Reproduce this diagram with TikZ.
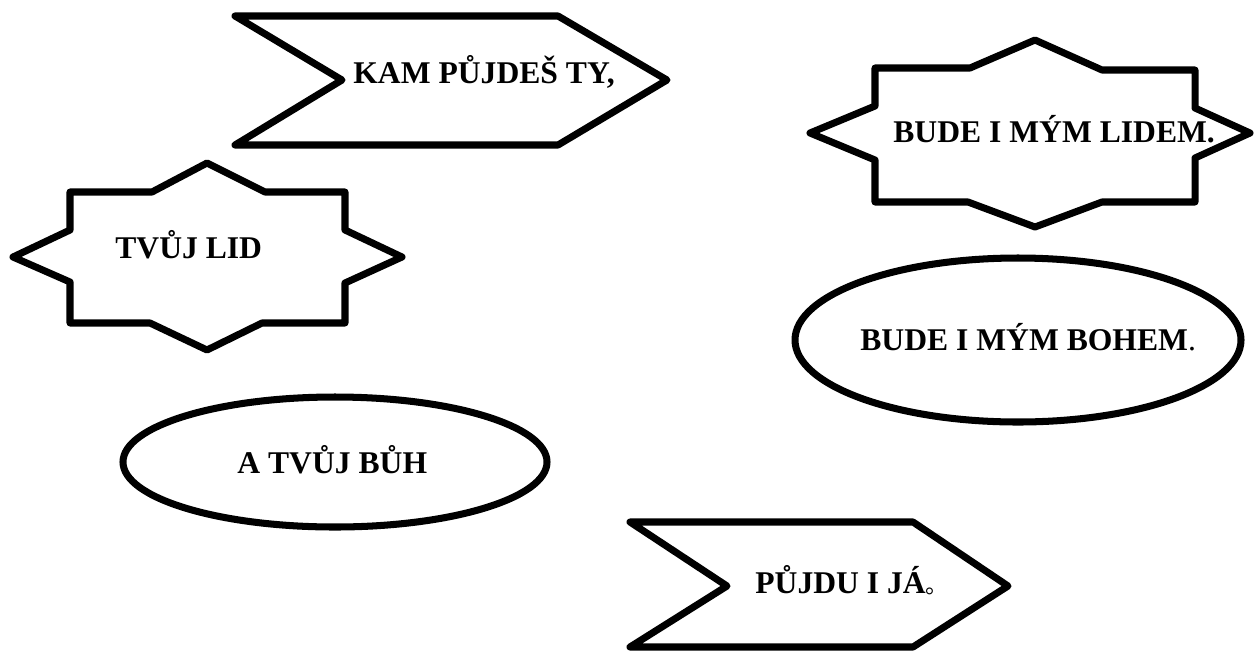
\documentclass[tikz,border=0pt]{standalone}
\usepackage{fontspec}
\setmainfont{Liberation Serif}
\newfontfamily\cjk{Noto Sans CJK SC}
\tikzset{
	tvar/.style={draw=black, line width=4pt, line join=round, fill=white},
	napis/.style={anchor=base west, inner sep=0pt, font=\bfseries\fontsize{18}{21}\selectfont},
}
\begin{document}
\begin{tikzpicture}[x=0.02cm, y=-0.02cm]
	\useasboundingbox (0, 0) rectangle (1254, 650);
	% Šipky
	\draw[tvar] (235, 16) -- (558, 16) -- (667, 80) -- (558, 145) -- (235, 145) -- (342, 80) -- cycle;
	\node[napis] (kam) at (353, 83) {KAM PŮJDEŠ TY,};
	\draw[tvar] (630, 522) -- (913, 522) -- (1008, 586) -- (913, 647) -- (630, 647) -- (727, 586) -- cycle;
	\node[napis] (pujdu) at (755, 593) {PŮJDU I JÁ{\mdseries\cjk\fontsize{13}{15}\selectfont 。}};
	% Hvězdy
	\draw[tvar] (70, 192) -- (152, 192) -- (207, 163) -- (265, 192) -- (345, 192) -- (345, 230) -- (402, 257) -- (345, 283) -- (345, 323) -- (262, 323) -- (207, 350) -- (150, 323) -- (70, 323) -- (70, 282) -- (13, 257) -- (70, 230) -- cycle;
	\node[napis] (lid) at (115, 258) {TVŮJ LID};
	\draw[tvar] (875, 68) -- (970, 68) -- (1035, 40) -- (1102, 70) -- (1195, 70) -- (1195, 108) -- (1250, 133) -- (1195, 158) -- (1195, 202) -- (1102, 202) -- (1035, 227) -- (968, 202) -- (875, 202) -- (875, 160) -- (810, 133) -- (875, 106) -- cycle;
	\node[napis] (mylid) at (893, 142) {BUDE I MÝM LIDEM.};
	% Elipsy
	\draw[tvar] (1018, 340) ellipse [x radius=223, y radius=82];
	\node[napis] (mybuh) at (860, 350) {BUDE I MÝM BOHEM{\mdseries .}};
	\draw[tvar] (335, 462) ellipse [x radius=212, y radius=65];
	\node[napis] (buh) at (237, 473) {A TVŮJ BŮH};
\end{tikzpicture}
\end{document}
